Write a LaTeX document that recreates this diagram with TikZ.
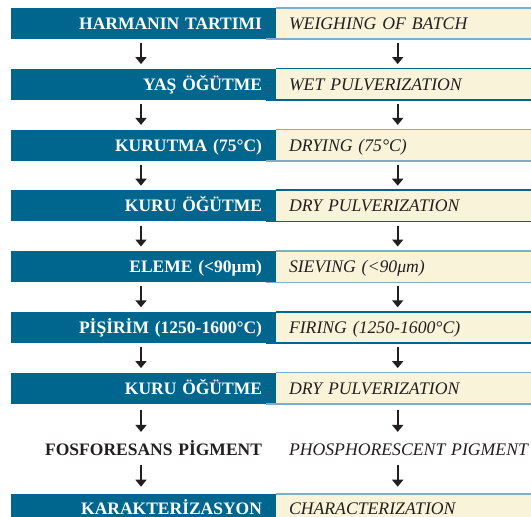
\documentclass[tikz,border=0pt]{standalone}
\usepackage{fontspec}
\setmainfont{Liberation Serif}
\usetikzlibrary{arrows.meta}
\definecolor{boxblue}{RGB}{0,102,142}
\definecolor{cream}{RGB}{249,244,217}
\definecolor{lineblue}{RGB}{125,176,199}
\definecolor{ink}{RGB}{35,31,32}
\tikzset{
  lbox/.style={fill=boxblue, minimum width=265pt, minimum height=31pt, text width=237pt, align=right,
    inner xsep=14pt, inner ysep=0pt, text height=12pt, text depth=0pt, text=white,
    font=\fontsize{17.5}{20}\selectfont\bfseries},
  rbox/.style={fill=cream, minimum width=255pt, minimum height=31pt, text width=229pt, align=left,
    inner xsep=13pt, inner ysep=0pt, text height=12pt, text depth=0pt, text=ink,
    font=\fontsize{17.7}{20}\selectfont\itshape},
  ltext/.style={lbox, fill=none, text=ink},
  rtext/.style={rbox, fill=none},
  lastrow/.style={text height=9pt},
  arr/.style={draw=ink, line width=2pt, -{Triangle[width=11pt,length=7pt]}, shorten <=4pt, shorten >=4.5pt},
  lightedge/.style={draw=lineblue, line width=1.5pt},
  darkedge/.style={draw=boxblue, line width=1.5pt},
}
\begin{document}
\begin{tikzpicture}[x=1pt,y=-1pt]
\useasboundingbox (0,0) rectangle (531,517);
\fill[white] (0,0) rectangle (531,517);
\clip (0,0) rectangle (531,517);
% left column
\node[lbox] (L1) at (143.5,23.5) {HARMANIN TARTIMI};
\node[lbox] (L2) at (143.5,84.3) {YAŞ ÖĞÜTME};
\node[lbox] (L3) at (143.5,145.1) {KURUTMA (75°C)};
\node[lbox] (L4) at (143.5,205.9) {KURU ÖĞÜTME};
\node[lbox] (L5) at (143.5,266.7) {ELEME (<90μm)};
\node[lbox] (L6) at (143.5,327.5) {PİŞİRİM (1250-1600°C)};
\node[lbox] (L7) at (143.5,388.3) {KURU ÖĞÜTME};
\node[ltext] (L8) at (143.5,449.1) {FOSFORESANS PİGMENT};
\node[lbox, lastrow] (L9) at (143.5,509.9) {KARAKTERİZASYON};
% right column
\node[rbox] (R1) at (403.5,23.5) {WEIGHING OF BATCH};
\node[rbox] (R2) at (403.5,84.3) {WET PULVERIZATION};
\node[rbox] (R3) at (403.5,145.1) {DRYING (75°C)};
\node[rbox] (R4) at (403.5,205.9) {DRY PULVERIZATION};
\node[rbox] (R5) at (403.5,266.7) {SIEVING (<90μm)};
\node[rbox] (R6) at (403.5,327.5) {FIRING (1250-1600°C)};
\node[rbox] (R7) at (403.5,388.3) {DRY PULVERIZATION};
\node[rtext] (R8) at (403.5,449.1) {\mbox{PHOSPHORESCENT PIGMENT}};
\node[rbox, lastrow] (R9) at (403.5,509.9) {CHARACTERIZATION};
% edges of the cream boxes
\foreach \r/\s in {R1/lightedge,R2/darkedge,R3/lightedge,R4/darkedge,R5/lightedge,R6/darkedge,R7/lightedge,R9/lightedge}{
  \draw[\s] (\r.north west) -- (\r.north east);
  \draw[\s] ([xshift=-10pt]\r.south west) -- (\r.south east);
}
% arrows
\foreach \a/\b in {1/2,2/3,3/4,4/5,5/6,6/7}{
  \draw[arr] ([xshift=-2.5pt]L\a.south) -- ([xshift=-2.5pt]L\b.north);
  \draw[arr] ([xshift=-5.8pt]R\a.south) -- ([xshift=-5.8pt]R\b.north);
}
\draw[arr, shorten <=6pt, shorten >=1.5pt] ([xshift=-2.5pt]L7.south) -- ([xshift=-2.5pt]L8.north);
\draw[arr, shorten <=6pt, shorten >=1.5pt] ([xshift=-5.8pt]R7.south) -- ([xshift=-5.8pt]R8.north);
\draw[arr, shorten <=0.5pt, shorten >=7.5pt] ([xshift=-2.5pt]L8.south) -- ([xshift=-2.5pt]L9.north);
\draw[arr, shorten <=0.5pt, shorten >=7.5pt] ([xshift=-5.8pt]R8.south) -- ([xshift=-5.8pt]R9.north);
\end{tikzpicture}
\end{document}
